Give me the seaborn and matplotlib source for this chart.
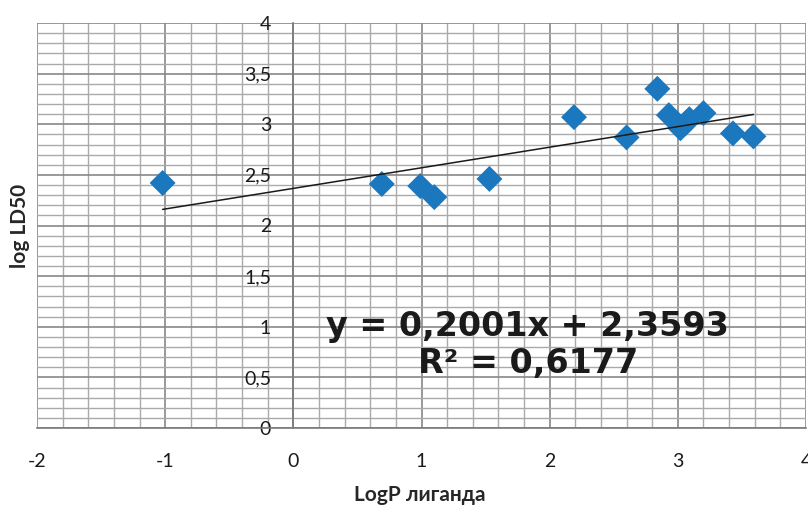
import numpy as np
import pandas as pd
import matplotlib
matplotlib.use("Agg")
import matplotlib.pyplot as plt
from matplotlib.ticker import MultipleLocator
import seaborn as sns

# data
logp = [-1.02, 0.69, 0.99, 1.10, 1.53, 2.19, 2.60, 2.84, 2.93, 3.02, 3.06, 3.09, 3.20, 3.43, 3.59]
log_ld50 = [2.42, 2.41, 2.39, 2.28, 2.46, 3.07, 2.87, 3.35, 3.09, 2.96, 3.01, 3.05, 3.11, 2.91, 2.88]

x_ticks = [-2, -1, 0, 1, 2, 3, 4]
x_labels = ["-2", "-1", "0", "1", "2", "3", "4"]
y_ticks = [0, 0.5, 1, 1.5, 2, 2.5, 3, 3.5, 4]
y_labels = ["0", "0,5", "1", "1,5", "2", "2,5", "3", "3,5", "4"]

eq_text = "y = 0,2001x + 2,3593"
r2_text = "R² = 0,6177"

df = pd.DataFrame({"logp": logp, "ld50": log_ld50})

sns.set_style("white")
plt.rcParams["font.family"] = ["Lato", "DejaVu Sans"]

fig = plt.figure(figsize=(8.08, 5.08), dpi=100)
ax = fig.add_axes([37 / 808, 1 - 428 / 508, (806 - 37) / 808, (428 - 23) / 508])

ax.set_xlim(-2, 4)
ax.set_ylim(0, 4)

# excel-like grid
ax.xaxis.set_minor_locator(MultipleLocator(0.2))
ax.yaxis.set_minor_locator(MultipleLocator(0.1))
ax.grid(which="minor", color="#aaaaaa", lw=1.0)
ax.grid(which="major", color="#888888", lw=1.2)
ax.set_axisbelow(True)

sns.regplot(data=df, x="logp", y="ld50", ax=ax, ci=None, marker="D",
            scatter_kws={"s": 175, "color": "#1c78be", "edgecolors": "none", "alpha": 1, "zorder": 3},
            line_kws={"color": "#1a1a1a", "lw": 1.1, "zorder": 4})

for side in ["top", "right"]:
    ax.spines[side].set_visible(False)
ax.spines["left"].set_position(("data", 0))
ax.spines["bottom"].set_position(("data", 0))
ax.spines["left"].set_color("#7a7a7a")
ax.spines["bottom"].set_color("#7a7a7a")
ax.spines["left"].set_linewidth(1.2)
ax.spines["bottom"].set_linewidth(1.2)

ax.set_xticks(x_ticks)
ax.set_xticklabels(x_labels)
ax.set_yticks(y_ticks)
ax.set_yticklabels(y_labels)
ax.tick_params(axis="x", which="major", length=6, width=1, color="#7a7a7a", pad=12, labelsize=14, labelcolor="#1a1a1a")
ax.tick_params(axis="y", which="major", length=0, pad=16, labelsize=14, labelcolor="#1a1a1a")
ax.tick_params(which="minor", length=0)

ax.set_xlabel("")
ax.set_ylabel("")
fig.text(420 / 808, 1 - 495 / 508, "LogP лиганда", ha="center", va="center", fontsize=15, fontweight="bold")
fig.text(20 / 808, 1 - 226 / 508, "log LD50", ha="center", va="center", rotation=90, fontsize=15, fontweight="bold")

ax.text(1.83, 1.0, eq_text, ha="center", va="center", fontsize=24, fontweight="bold",
        color="#1a1a1a", family="DejaVu Sans")
ax.text(1.83, 0.635, r2_text, ha="center", va="center", fontsize=24, fontweight="bold",
        color="#1a1a1a", family="DejaVu Sans")

fig.savefig("out.png", dpi=100, facecolor="white")
